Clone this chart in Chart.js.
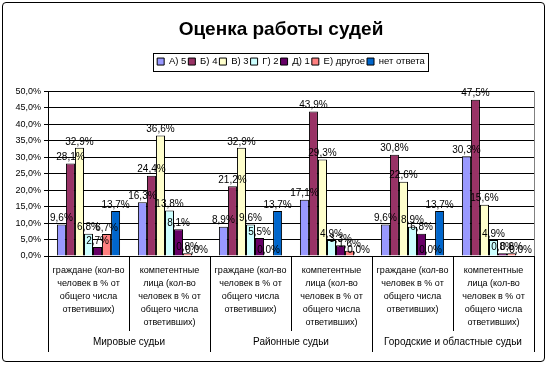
<!DOCTYPE html>
<html>
<head>
<meta charset="utf-8">
<script src="https://cdn.jsdelivr.net/npm/chart.js@4/dist/chart.umd.min.js"></script>
<style>
html, body { margin: 0; padding: 0; background: #fff; }
#wrap { position: relative; width: 547px; height: 365px; }
#frame { position: absolute; left: 2px; top: 2px; width: 541px; height: 358px; border: 1px solid #000; border-radius: 4px; pointer-events: none; }
</style>
</head>
<body>
<div id="wrap">
<canvas id="chart" width="547" height="365"></canvas>
<div id="frame"></div>
</div>
<script>
// categories (two levels)
const categoryLabels = [
    ["граждане (кол-во", "человек в % от", "общего числа", "ответивших)"],
    ["компетентные", "лица (кол-во", "человек в % от", "общего числа", "ответивших)"],
    ["граждане (кол-во", "человек в % от", "общего числа", "ответивших)"],
    ["компетентные", "лица (кол-во", "человек в % от", "общего числа", "ответивших)"],
    ["граждане (кол-во", "человек в % от", "общего числа", "ответивших)"],
    ["компетентные", "лица (кол-во", "человек в % от", "общего числа", "ответивших)"]
];
const groupLabels = ["Мировые судьи", "Районные судьи", "Городские и областные судьи"];

// series
const seriesNames = ["А) 5", "Б) 4", "В) 3", "Г) 2", "Д) 1", "Е) другое", "нет ответа"];
const grade5 = [9.6, 16.3, 8.9, 17.1, 9.6, 30.3];
const grade4 = [28.1, 24.4, 21.2, 43.9, 30.8, 47.5];
const grade3 = [32.9, 36.6, 32.9, 29.3, 22.6, 15.6];
const grade2 = [6.8, 13.8, 9.6, 4.9, 8.9, 4.9];
const grade1 = [2.7, 8.1, 5.5, 3.3, 6.8, 0.8];
const other = [6.7, 0.8, 0.0, 1.6, 0.0, 0.8];
const noAnswer = [13.7, 0.0, 13.7, 0.0, 13.7, 0.0];
const seriesValues = [grade5, grade4, grade3, grade2, grade1, other, noAnswer];

const seriesColors = ['#9999FF', '#993366', '#FFFFCC', '#CCFFFF', '#660066', '#FF8080', '#0066CC'];

const fmt = v => v.toFixed(1).replace('.', ',') + '%';

// value labels above bars
const valueLabels = {
    id: 'valueLabels',
    afterDatasetsDraw(chart) {
        const ctx = chart.ctx;
        ctx.save();
        ctx.font = '10px Arial';
        ctx.fillStyle = '#000';
        ctx.textAlign = 'center';
        ctx.textBaseline = 'bottom';
        chart.data.datasets.forEach((ds, i) => {
            chart.getDatasetMeta(i).data.forEach((bar, j) => {
                ctx.fillText(fmt(ds.data[j]), bar.x, bar.y - 1);
            });
        });
        ctx.restore();
    }
};

// title and legend sit a bit right of centre in the original
const shiftTop = {
    id: 'shiftTop',
    afterLayout(chart) {
        chart.titleBlock.left += 14;
        chart.titleBlock.right += 14;
        chart.legend.left += 24;
        chart.legend.right += 24;
    }
};

// separators, group labels, plot border, legend frame
const decorations = {
    id: 'decorations',
    afterDraw(chart) {
        const ctx = chart.ctx;
        const x = chart.scales.x;
        const area = chart.chartArea;
        const step = x.width / categoryLabels.length;
        ctx.save();
        ctx.lineWidth = 1;

        // right side of plot area
        ctx.strokeStyle = '#808080';
        ctx.beginPath();
        ctx.moveTo(Math.round(area.right) + 0.5, area.top);
        ctx.lineTo(Math.round(area.right) + 0.5, area.bottom);
        ctx.stroke();

        ctx.strokeStyle = '#000';
        for (let i = 0; i <= categoryLabels.length; i++) {
            const px = Math.round(x.left + i * step) + 0.5;
            const end = i % 2 === 0 ? 352 : 331;
            ctx.beginPath();
            ctx.moveTo(px, area.bottom);
            ctx.lineTo(px, end);
            ctx.stroke();
        }

        ctx.font = '10px Arial';
        ctx.fillStyle = '#000';
        ctx.textAlign = 'center';
        ctx.textBaseline = 'middle';
        groupLabels.forEach((g, i) => {
            ctx.fillText(g, x.left + (i * 2 + 1) * step, 342);
        });

        // legend frame
        const boxes = chart.legend.legendHitBoxes;
        if (boxes && boxes.length) {
            const l = Math.min(...boxes.map(b => b.left)) - 4;
            const r = Math.max(...boxes.map(b => b.left + b.width)) + 3;
            const t = Math.min(...boxes.map(b => b.top)) - 4;
            const bt = Math.max(...boxes.map(b => b.top + b.height)) + 4;
            ctx.strokeRect(Math.round(l) + 0.5, Math.round(t) + 0.5, Math.round(r - l), Math.round(bt - t));
        }
        ctx.restore();
    }
};

const chart = new Chart(document.getElementById('chart'), {
    type: 'bar',
    data: {
        labels: categoryLabels,
        datasets: seriesNames.map((name, i) => ({
            label: name,
            data: seriesValues[i],
            backgroundColor: seriesColors[i],
            borderColor: '#000',
            borderWidth: 1,
            categoryPercentage: 0.78,
            barPercentage: 1
        }))
    },
    options: {
        responsive: false,
        animation: false,
        layout: {
            padding: { left: 0, right: 13, top: 12, bottom: 0 }
        },
        plugins: {
            title: {
                display: true,
                text: 'Оценка работы судей',
                color: '#000',
                font: { family: 'Arial', size: 19, weight: 'bold' },
                padding: { top: 6, bottom: 14 }
            },
            subtitle: {
                display: true,
                text: ' ',
                weight: 500,
                font: { size: 1 },
                padding: { top: 0, bottom: 14 }
            },
            legend: {
                position: 'top',
                labels: {
                    boxWidth: 7,
                    boxHeight: 7,
                    padding: 2,
                    color: '#000',
                    font: { family: 'Arial', size: 9.5 }
                }
            },
            tooltip: { enabled: false }
        },
        scales: {
            y: {
                min: 0,
                max: 50,
                ticks: {
                    stepSize: 5,
                    color: '#000',
                    font: { family: 'Arial', size: 9 },
                    padding: 3,
                    callback: v => fmt(v)
                },
                grid: { color: '#000', tickLength: 4 },
                border: { color: '#000' },
                afterFit: s => { s.width = 48; }
            },
            x: {
                grid: { display: false, drawTicks: false },
                border: { color: '#000' },
                ticks: {
                    autoSkip: false,
                    maxRotation: 0,
                    color: '#000',
                    font: { family: 'Arial', size: 9, lineHeight: 1.45 },
                    padding: 8
                },
                afterFit: s => { s.height = 109; }
            }
        }
    },
    plugins: [valueLabels, shiftTop, decorations]
});
</script>
</body>
</html>
